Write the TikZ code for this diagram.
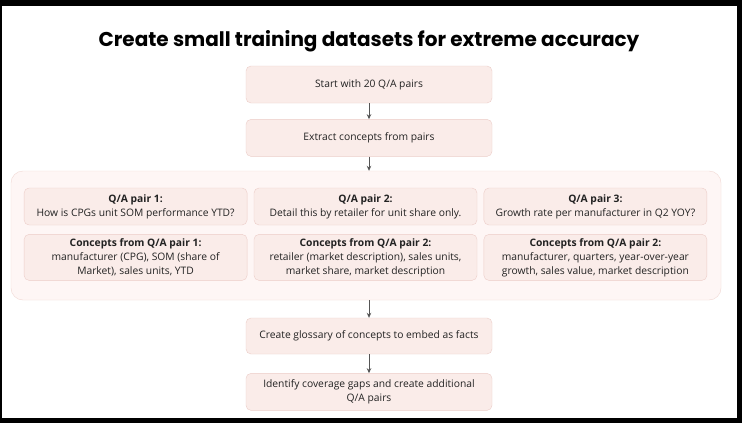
\documentclass[tikz,border=0pt]{standalone}
\usepackage{fontspec}
\setmainfont{Open Sans}
\newfontfamily\titlefont{Poppins}
\usetikzlibrary{arrows.meta,positioning}
\definecolor{stepfill}{HTML}{FAECE9}
\definecolor{stepline}{HTML}{ECCDC8}
\definecolor{groupfill}{HTML}{FEF6F5}
\definecolor{groupline}{HTML}{F1D8D3}
\definecolor{ink}{HTML}{222222}
\definecolor{linkgray}{HTML}{555555}

\begin{document}
\begin{tikzpicture}[x=1pt,y=1pt,node distance=16pt and 6.5pt,
  stepbox/.style={draw=stepline,fill=stepfill,rounded corners=5pt,align=center,text=ink,font=\fontsize{10.3}{14}\selectfont,minimum width=246pt,minimum height=37pt,inner sep=2pt},
  qabox/.style={stepbox,minimum width=223pt},
  conceptbox/.style={qabox,minimum height=46pt},
  groupbox/.style={draw=groupline,fill=groupfill,rounded corners=12pt,minimum width=710pt,minimum height=129pt,inner sep=0pt},
  link/.style={draw=linkgray,line width=0.8pt,-{Stealth[length=5pt,width=4.5pt]}}]
% frame
\fill[black] (0,0) rectangle (742,-423);
\fill[white] (2,-6) rectangle (737,-418);
\useasboundingbox (0,0) rectangle (742,-423);
\node[font=\titlefont\bfseries\fontsize{20}{22}\selectfont] (title) at (369,-41) {Create small training datasets for extreme accuracy};
% main column
\node[stepbox] (start) at (369,-84.5) {Start with 20 Q/A pairs};
\node[stepbox,below=of start] (extract) {Extract concepts from pairs};
\node[groupbox] (group) at (366,-235.5) {};
% Q/A pairs and their concepts
\node[qabox] (qa2) at (365.5,-206.5) {\textbf{Q/A pair 2:}\\Detail this by retailer for unit share only.};
\node[qabox,left=of qa2] (qa1) {\textbf{Q/A pair 1:}\\How is CPGs unit SOM performance YTD?};
\node[qabox,right=of qa2] (qa3) {\textbf{Q/A pair 3:}\\Growth rate per manufacturer in Q2 YOY?};
\node[conceptbox,below=9pt of qa1] (con1) {\textbf{Concepts from Q/A pair 1:}\\manufacturer (CPG), SOM (share of\\Market), sales units, YTD};
\node[conceptbox,below=9pt of qa2] (con2) {\textbf{Concepts from Q/A pair 2:}\\retailer (market description), sales units,\\market share, market description};
\node[conceptbox,below=9pt of qa3] (con3) {\textbf{Concepts from Q/A pair 2:}\\manufacturer, quarters, year-over-year\\growth, sales value, market description};
\node[stepbox,minimum height=36pt] (glossary) at (369,-336) {Create glossary of concepts to embed as facts};
\node[stepbox,below=19pt of glossary] (identify) {Identify coverage gaps and create additional\\Q/A pairs};
\draw[link] (start) -- (extract);
\draw[link] (extract) -- (extract |- group.north);
\draw[link] (group.south -| glossary) -- (glossary);
\draw[link] (glossary) -- (identify);
\end{tikzpicture}
\end{document}
